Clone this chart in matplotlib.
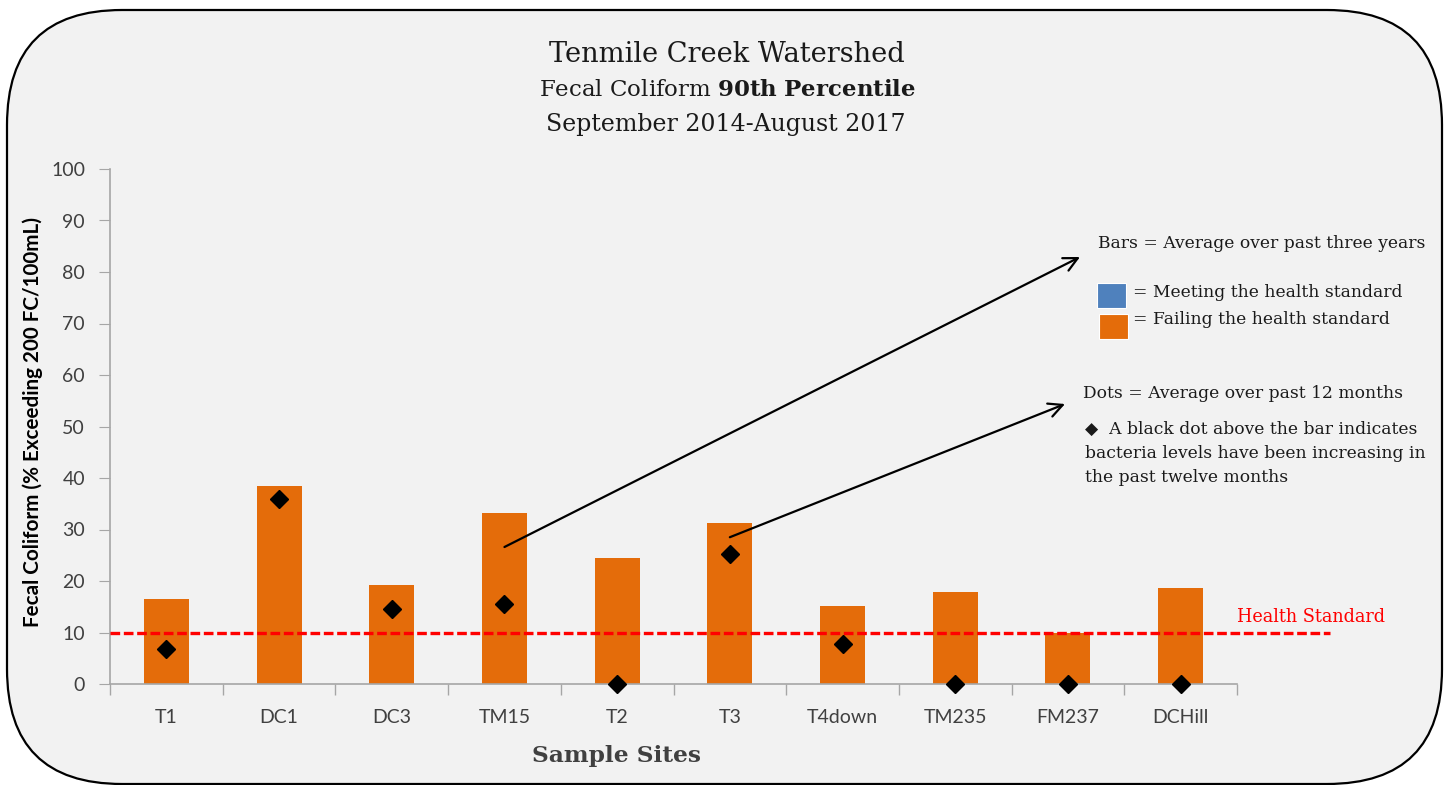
import matplotlib
matplotlib.use("Agg")
import matplotlib.pyplot as plt
import matplotlib.patches as patches
from matplotlib.transforms import IdentityTransform
import numpy as np

# data
sites = ["T1", "DC1", "DC3", "TM15", "T2", "T3", "T4down", "TM235", "FM237", "DCHill"]
bar_values = [16.5, 38.4, 19.3, 33.3, 24.4, 31.3, 15.2, 17.8, 9.9, 18.7]   # 3 year average
dot_values = [6.7, 35.9, 14.5, 15.6, 0, 25.3, 7.8, 0, 0, 0]                 # 12 month average
health_standard = 10
y_ticks = list(range(0, 101, 10))
legend_colors = ["#4f81bd", "#e46c0a"]
legend_labels = ["= Meeting the health standard", "= Failing the health standard"]

W, H = 1447, 785
SERIF = "DejaVu Serif"
SANS = "Lato"
GREY = "#a6a6a6"
TXT = "#404040"
INK = "#1a1a1a"

plt.rcParams["mathtext.fontset"] = "dejavuserif"

fig = plt.figure(figsize=(W / 100, H / 100), dpi=100)
fig.patch.set_facecolor("white")


def fx(px):
    return px / W


def fy(py):
    return 1 - py / H


# rounded frame round the whole chart (pixel coords)
frame = patches.FancyBboxPatch((7, 1), 1435, 774, boxstyle="round,pad=0,rounding_size=115",
                               transform=IdentityTransform(), facecolor="#f2f2f2",
                               edgecolor="black", lw=1.6, zorder=-10)
fig.add_artist(frame)

ax = fig.add_axes([fx(110), fy(684), (1237 - 110) / W, (684 - 169) / H])
ax.set_facecolor("none")

x = np.arange(len(sites))
ax.bar(x, bar_values, width=0.4, color=legend_colors[1], zorder=2)
ax.plot(x, dot_values, ls="none", marker="D", ms=9, color="black", zorder=4, clip_on=False)
ax.axhline(health_standard, xmin=0, xmax=(1330 - 110) / (1237 - 110), color="red", lw=2.4,
           ls=(0, (2.9, 1.1)), clip_on=False, zorder=3)

ax.set_xlim(-0.5, len(sites) - 0.5)
ax.set_ylim(0, 100)
ax.set_yticks(y_ticks)
ax.set_xticks(np.arange(-0.5, len(sites), 1))
ax.set_xticklabels([])
ax.set_xticks(x, minor=True)
ax.set_xticklabels(sites, minor=True)
ax.tick_params(axis="x", which="minor", length=0, pad=18, labelsize=14, labelcolor=TXT)
ax.tick_params(axis="x", which="major", length=8, color=GREY, width=1)
ax.tick_params(axis="y", length=8, pad=10, color=GREY, labelsize=14, labelcolor=TXT)
for lab in ax.get_xticklabels(minor=True) + ax.get_yticklabels():
    lab.set_family(SANS)
for s in ["top", "right"]:
    ax.spines[s].set_visible(False)
for s in ["left", "bottom"]:
    ax.spines[s].set_color(GREY)
    ax.spines[s].set_linewidth(1.2)

fig.text(fx(33), fy(422), "Fecal Coliform (% Exceeding 200 FC/100mL)", rotation=90,
         ha="center", va="center", family=SANS, fontweight="bold", fontsize=14.9, color="black")
fig.text(fx(617), fy(756), "Sample Sites", ha="center", va="center", family=SERIF,
         fontweight="bold", fontsize=16.8, color=TXT)

# titles
fig.text(fx(727), fy(55), "Tenmile Creek Watershed", ha="center", va="center",
         family=SERIF, fontsize=19.6, color=INK)
fig.text(fx(727), fy(90), r"Fecal Coliform $\mathbf{90th\ Percentile}$", ha="center",
         va="center", family=SERIF, fontsize=16.5, color=INK)
fig.text(fx(726), fy(124), "September 2014-August 2017", ha="center", va="center",
         family=SERIF, fontsize=17, color=INK)

ax.text(9.5, health_standard + 1.2, "Health Standard", ha="left", va="bottom",
        family=SERIF, fontsize=12.7, color="red", clip_on=False)

# explanatory notes
fig.text(fx(1098), fy(244), "Bars = Average over past three years", ha="left", va="center",
         family=SERIF, fontsize=12.3, color=INK)
for i, (c, lab) in enumerate(zip(legend_colors, legend_labels)):
    top = 283 + i * 31
    fig.add_artist(patches.Rectangle((1097 + 2 * i, H - top - 25), 29, 25,
                                     transform=IdentityTransform(), facecolor=c,
                                     edgecolor="white", lw=0.8))
    fig.text(fx(1133), fy(293 + i * 26), lab, ha="left", va="center", family=SERIF,
             fontsize=12.3, color=INK)
fig.text(fx(1083), fy(393), "Dots = Average over past 12 months", ha="left", va="center",
         family=SERIF, fontsize=12.3, color=INK)
notes = ["\u25c6  A black dot above the bar indicates",
         "bacteria levels have been increasing in",
         "the past twelve months"]
for i, line in enumerate(notes):
    fig.text(fx(1085), fy(429 + i * 24), line, ha="left", va="center",
             family=[SERIF, "DejaVu Sans"], fontsize=12.3, color=INK)

# arrows from bars to the notes
ax.annotate("", xy=(1080, H - 257), xycoords="figure pixels", xytext=(3, 26.6),
            textcoords="data", arrowprops=dict(arrowstyle="->", lw=1.6, color="black",
                                               mutation_scale=25, shrinkA=0, shrinkB=0))
ax.annotate("", xy=(1065, H - 404), xycoords="figure pixels", xytext=(5, 28.5),
            textcoords="data", arrowprops=dict(arrowstyle="->", lw=1.6, color="black",
                                               mutation_scale=25, shrinkA=0, shrinkB=0))

fig.savefig("out.png", dpi=100, facecolor=fig.get_facecolor())
